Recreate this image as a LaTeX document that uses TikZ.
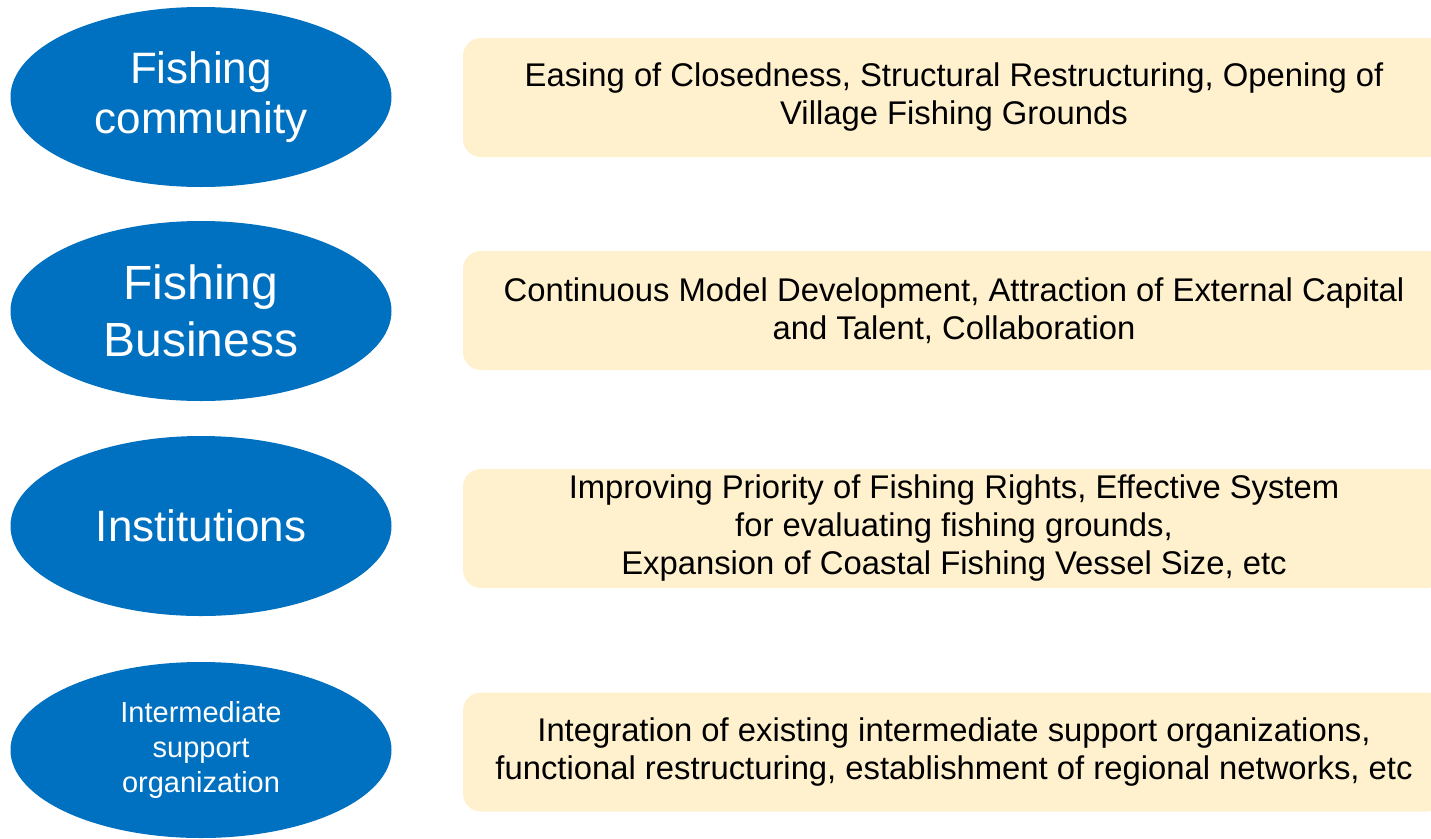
\documentclass[tikz,border=0pt]{standalone}
\usepackage{fontspec}
\setmainfont{Liberation Sans}
\usetikzlibrary{shapes.geometric}
\definecolor{ovalblue}{HTML}{0070C0}
\definecolor{boxfill}{HTML}{FFF1CE}
\tikzset{
  oval/.style={ellipse, fill=ovalblue, draw=none, minimum width=381pt, minimum height=180pt, inner sep=0pt, text=white, align=center},
  infobox/.style={rectangle, rounded corners=18pt, fill=boxfill, draw=none, minimum width=982pt, minimum height=119pt, inner sep=0pt, align=center, text=black, font=\fontsize{32.8}{38}\selectfont}
}
\begin{document}
\begin{tikzpicture}[x=1pt,y=-1pt]
\clip (0,0) rectangle (1431,838);
\fill[white] (0,0) rectangle (1431,838);
\node[oval, font=\fontsize{44}{50}\selectfont] (o1) at (201,97) {Fishing\\community};
\node[oval, font=\fontsize{48}{57}\selectfont] (o2) at (201,311) {Fishing\\Business};
\node[oval, font=\fontsize{44}{50}\selectfont] (o3) at (201,526) {Institutions};
\node[oval, minimum height=176pt, font=\fontsize{29}{35}\selectfont] (o4) at (201,750) {Intermediate\\support\\organization};
\node[infobox] (b1) at (954,97.5) {Easing of Closedness, Structural Restructuring, Opening of\\Village Fishing Grounds};
\node[infobox] (b2) at (954,310.5) {Continuous Model Development, Attraction of External Capital\\and Talent, Collaboration};
\node[infobox] (b3) at (954,528.5) {Improving Priority of Fishing Rights, Effective System\\for evaluating fishing grounds,\\Expansion of Coastal Fishing Vessel Size, etc};
\node[infobox] (b4) at (954,752) {Integration of existing intermediate support organizations,\\functional restructuring, establishment of regional networks, etc};
\end{tikzpicture}
\end{document}
